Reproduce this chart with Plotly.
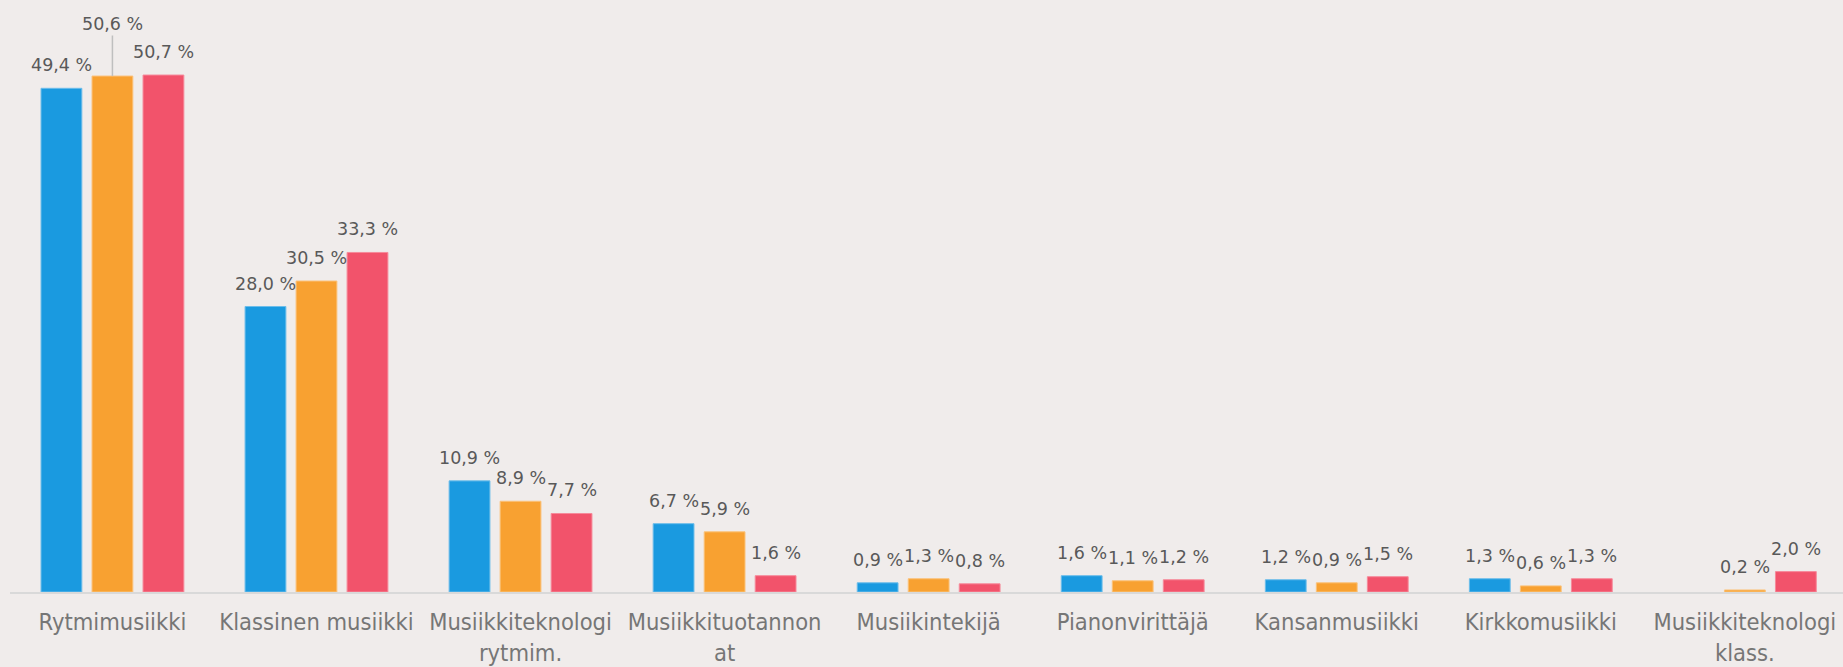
import plotly.graph_objects as go

categories = [
    "Rytmimusiikki",
    "Klassinen musiikki",
    "Musiikkiteknologi<br>rytmim.",
    "Musiikkituotannon<br>at",
    "Musiikintekijä",
    "Pianonvirittäjä",
    "Kansanmusiikki",
    "Kirkkomusiikki",
    "Musiikkiteknologi<br>klass.",
]
series_a = [49.4, 28.0, 10.9, 6.7, 0.9, 1.6, 1.2, 1.3, None]
series_b = [50.6, 30.5, 8.9, 5.9, 1.3, 1.1, 0.9, 0.6, 0.2]
series_c = [50.7, 33.3, 7.7, 1.6, 0.8, 1.2, 1.5, 1.3, 2.0]

series = [series_a, series_b, series_c]
colors = ["#1a9ae0", "#f8a131", "#f2536b"]
edge_colors = ["#6cbdea", "#fbc27a", "#f68a9a"]

BG = "#f0eceb"
LABEL_COLOR = "#595959"
SLOT_PX = 51  # distance between bar centres in a group

# labels moved up with a leader line: (series index, category index) -> extra lift in px
raised = {(1, 0): 52}

fig = go.Figure()
for i, vals in enumerate(series):
    fig.add_trace(go.Bar(
        x=categories, y=vals,
        marker=dict(color=colors[i], line=dict(color=edge_colors[i], width=1)),
        showlegend=False, hoverinfo="skip",
    ))

def fmt(v):
    return f"{v:.1f}".replace(".", ",") + " %"

for i, vals in enumerate(series):
    for j, v in enumerate(vals):
        if v is None:
            continue
        if (i, j) in raised:
            fig.add_annotation(
                x=categories[j], y=v, text=fmt(v), xshift=(i - 1) * SLOT_PX,
                showarrow=True, arrowhead=0, arrowwidth=1.5, arrowcolor="#bfbfbf",
                ax=0, ay=-raised[(i, j)], standoff=0,
                font=dict(family="DejaVu Sans", size=17.5, color=LABEL_COLOR),
            )
        else:
            fig.add_annotation(
                x=categories[j], y=v, text=fmt(v), xshift=(i - 1) * SLOT_PX,
                yshift=11, yanchor="bottom", showarrow=False,
                font=dict(family="DejaVu Sans", size=17.5, color=LABEL_COLOR),
            )

fig.update_layout(
    width=1843, height=667,
    margin=dict(l=10, r=0, t=21, b=75),
    paper_bgcolor=BG, plot_bgcolor=BG,
    barmode="group", bargap=0.25, bargroupgap=0.2,
    xaxis=dict(
        showline=True, linecolor="#d9d9d9", linewidth=1.5,
        showgrid=False, ticks="", range=[-0.502, 8.481],
        tickfont=dict(family="Liberation Sans Narrow, Arial Narrow, DejaVu Sans Condensed, sans-serif",
                      size=23.5, color="#767676"),
        ticklabelstandoff=8, automargin=False,
    ),
    yaxis=dict(range=[0, 56], visible=False, showgrid=False, zeroline=False, automargin=False),
)

fig.write_html(
    "out.html",
    config={"displayModeBar": False},
    post_script="document.body.style.margin='0';document.body.style.overflow='hidden';"
                "document.body.style.background='" + BG + "';",
)
